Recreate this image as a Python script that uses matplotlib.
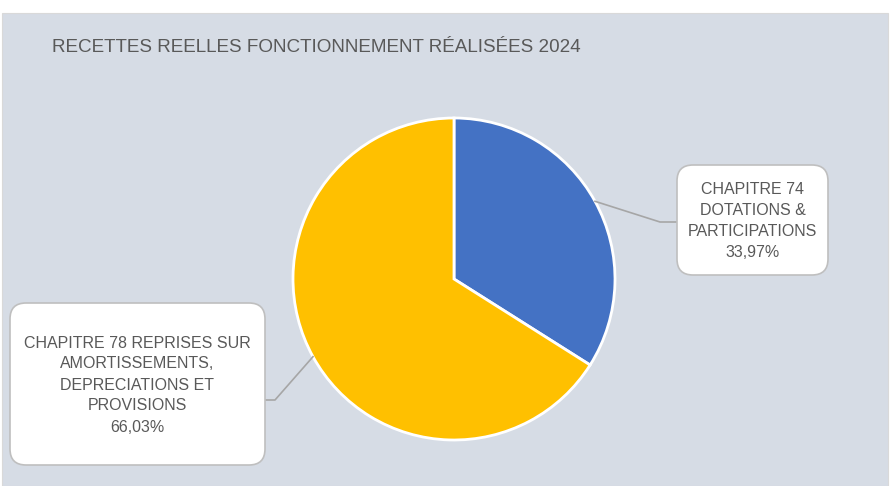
import numpy as np
import matplotlib
matplotlib.use("Agg")
import matplotlib.pyplot as plt
from matplotlib.patches import FancyBboxPatch, Rectangle
from matplotlib import font_manager

title = "RECETTES REELLES FONCTIONNEMENT RÉALISÉES 2024"
categories = ["CHAPITRE 74\nDOTATIONS &\nPARTICIPATIONS",
              "CHAPITRE 78 REPRISES SUR\nAMORTISSEMENTS,\nDEPRECIATIONS ET\nPROVISIONS"]
shares = [33.97, 66.03]
colors = ["#4472C4", "#FFC000"]

names = {f.name for f in font_manager.fontManager.ttflist}
family = "Liberation Sans Narrow" if "Liberation Sans Narrow" in names else "Liberation Sans"
plt.rcParams["font.family"] = [family, "DejaVu Sans"]

W, H = 890, 486
fig = plt.figure(figsize=(W / 100, H / 100), dpi=100)
fig.patch.set_facecolor("white")
ax = fig.add_axes([0, 0, 1, 1])
ax.set_xlim(0, W)
ax.set_ylim(0, H)
ax.axis("off")

bg = "#D6DCE5"
ax.add_patch(Rectangle((2, 0), W - 4, H - 13, facecolor=bg, edgecolor="#D9D9D9", lw=0.8, zorder=0))

ax.text(52, H - 48, title, fontsize=13.6, color="#595959", va="center", ha="left")

cx, cy, r = 454, H - 279, 161
wedges, _ = ax.pie(shares, colors=colors, startangle=90, counterclock=False,
                   center=(cx, cy), radius=r, frame=False,
                   wedgeprops=dict(edgecolor="white", linewidth=2))
ax.set_xlim(0, W)
ax.set_ylim(0, H)
ax.set_aspect("equal")

text_color = "#595959"
line_color = "#A6A6A6"
boxes = [
    dict(x0=677, y0=165, x1=828, y1=275, knee=(660, 222)),
    dict(x0=10, y0=303, x1=265, y1=465, knee=(275, 400)),
]

for w, cat, share, b in zip(wedges, categories, shares, boxes):
    ang = np.deg2rad((w.theta1 + w.theta2) / 2)
    px, py = cx + r * np.cos(ang), cy + r * np.sin(ang)
    kx, ky = b["knee"][0], H - b["knee"][1]
    ex = b["x0"] if kx < b["x0"] else b["x1"]
    ax.plot([px, kx, ex], [py, ky, ky], color=line_color, lw=1.2, zorder=3)
    bx, by = b["x0"], H - b["y1"]
    bw, bh = b["x1"] - b["x0"], b["y1"] - b["y0"]
    ax.add_patch(FancyBboxPatch((bx, by), bw, bh,
                                boxstyle="round,pad=0,rounding_size=16",
                                facecolor="white", edgecolor="#BFBFBF", lw=1.2, zorder=4))
    label = f"{cat}\n{share:.2f}%".replace(".", ",")
    ax.text(bx + bw / 2, by + bh / 2 - 1, label, ha="center", va="center",
            fontsize=11.5, color=text_color, linespacing=1.5, zorder=5)

fig.savefig("out.png", dpi=100, facecolor=fig.get_facecolor())
